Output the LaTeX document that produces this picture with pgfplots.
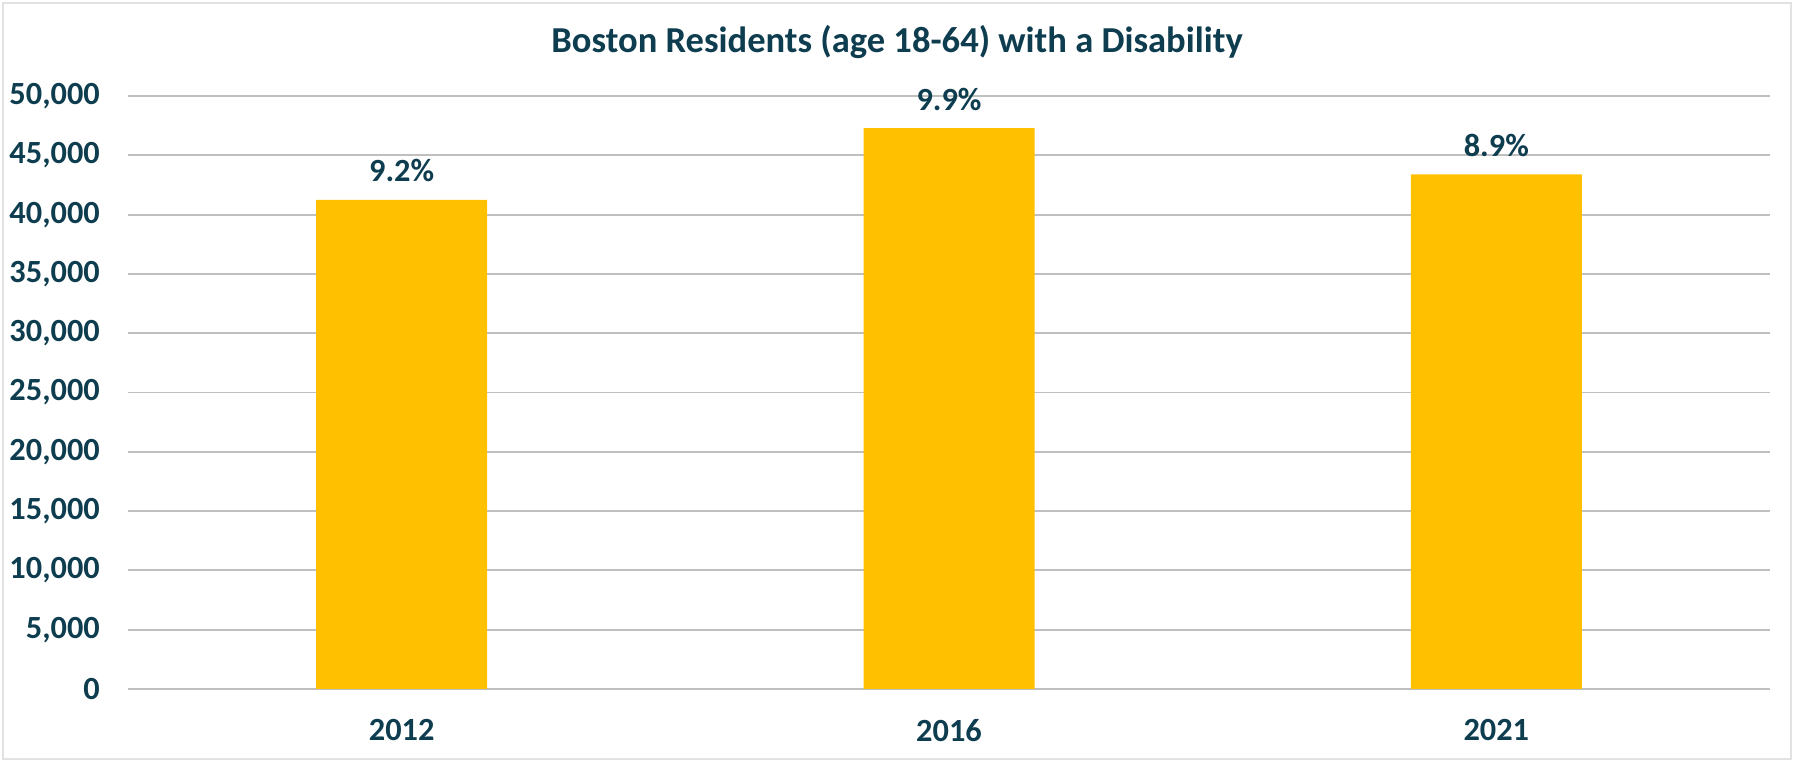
\documentclass[border=0pt]{standalone}
\usepackage{pgfplots}
\pgfplotsset{compat=1.18}
\usepackage{pgfplotstable}
\usepackage{fontspec}
\setmainfont{Carlito}
\definecolor{txt}{HTML}{0E3D4F}
\definecolor{bar}{HTML}{FFC000}
\definecolor{grid}{HTML}{E2E2E2}
\pgfplotstableread{
x y lab
0 41250 9.2\%
1 47300 9.9\%
2 43400 8.9\%
}\datatable
\begin{document}
\begin{tikzpicture}[x=1cm,y=1cm]
\path[use as bounding box] (0,0) rectangle (17.94,7.62);
\draw[grid, line width=0.6pt] (0.03,0.03) rectangle (17.91,7.59);
\node[font=\bfseries\fontsize{10.4}{12.5}\selectfont, text=txt] at (8.97,7.2) {Boston Residents (age 18-64) with a Disability};
\begin{axis}[
  at={(1.28cm,0.73cm)}, anchor=south west,
  scale only axis, width=16.42cm, height=5.93cm,
  ymin=0, ymax=50000, xmin=-0.5, xmax=2.5,
  ytick={0,5000,...,50000},
  scaled y ticks=false,
  xtick=data, xticklabels={2012,2016,2021},
  axis line style={draw=none},
  major tick length=0pt,
  xmajorgrids=false,
  ymajorgrids, grid style={grid, line width=0.55pt},
  tick label style={font=\bfseries\fontsize{9.2}{11}\selectfont, text=txt},
  /pgf/number format/assume math mode=true,
  yticklabel={\pgfmathprintnumber[fixed,1000 sep={,}]{\tick}},
  yticklabel style={xshift=-4.5pt},
  xticklabel style={yshift=-5pt},
  nodes near coords,
  point meta=explicit symbolic,
  every node near coord/.append style={font=\bfseries\fontsize{9.2}{11}\selectfont, text=txt, anchor=south, yshift=1.5pt},
  clip=false,
]
\addplot[ybar, bar width=1.71cm, fill=bar, draw=none] table[x=x, y=y, meta=lab] {\datatable};
\end{axis}
\end{tikzpicture}
\end{document}
